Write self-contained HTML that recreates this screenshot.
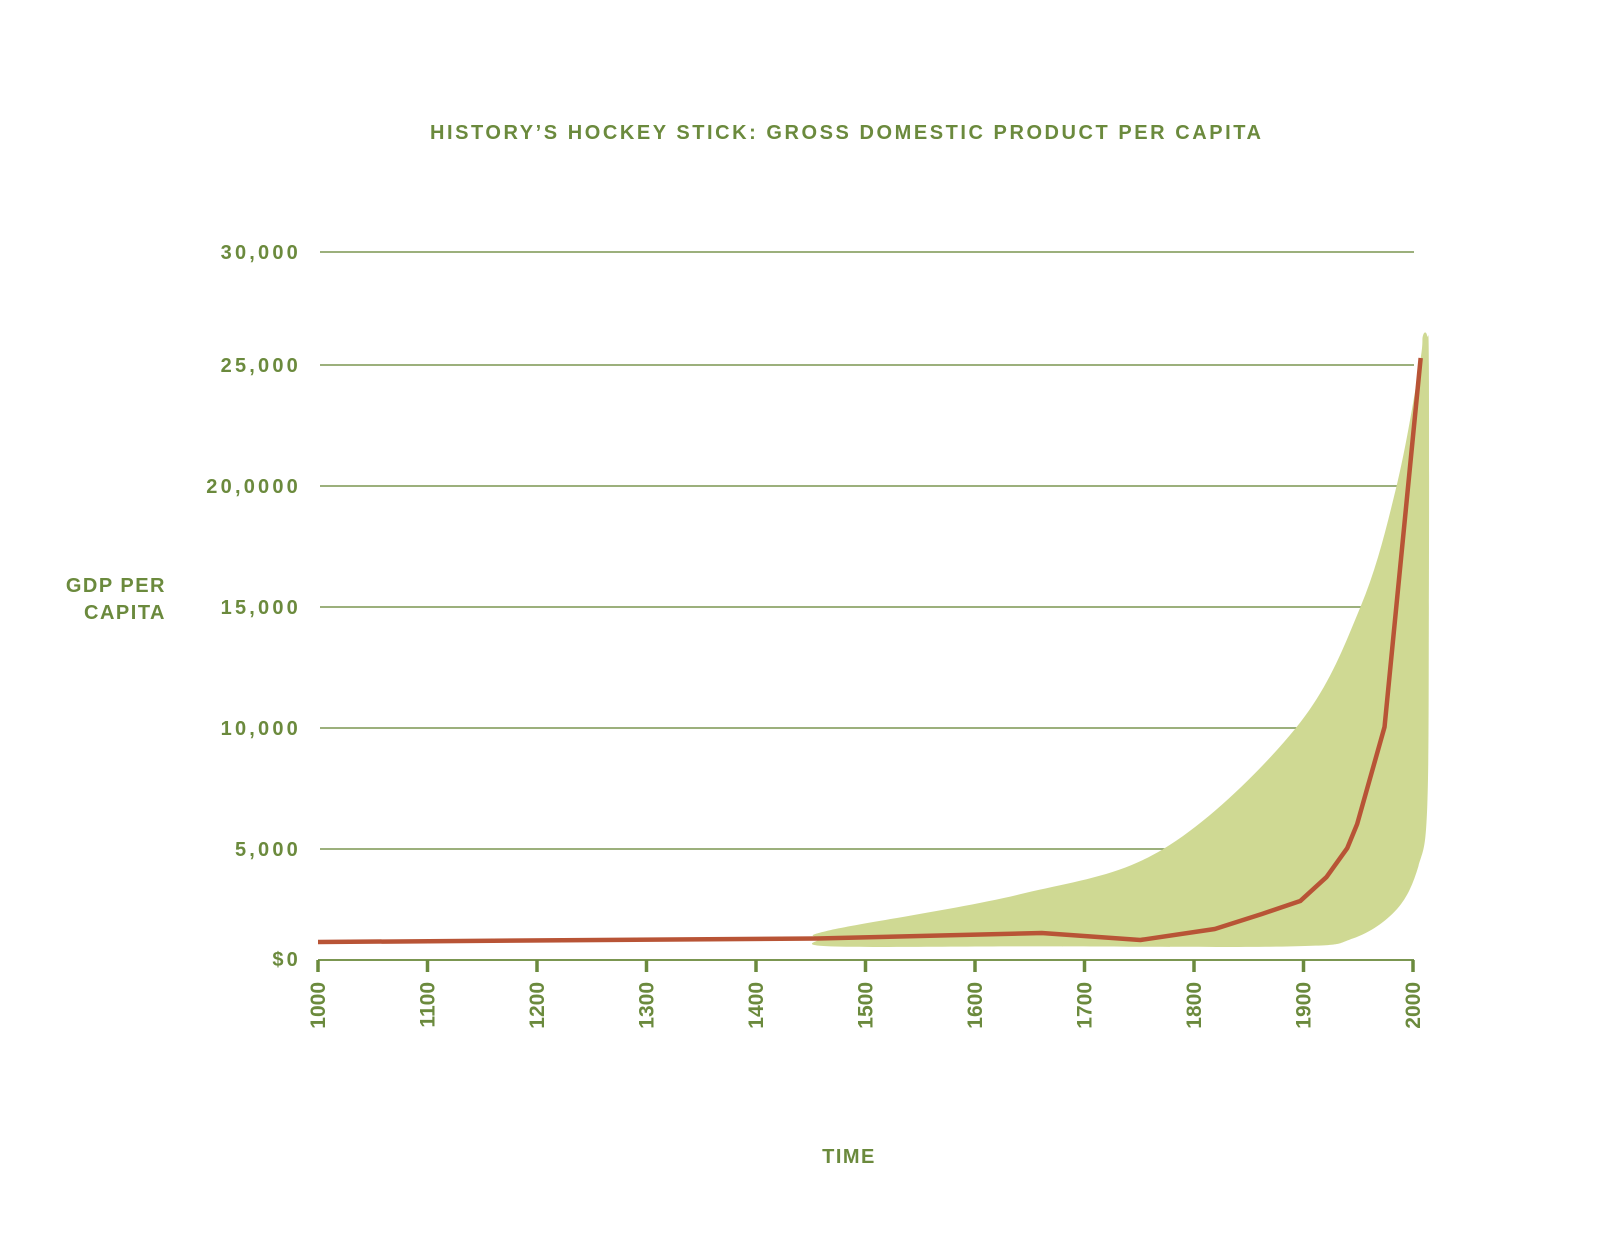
<!DOCTYPE html>
<html><head><meta charset="utf-8"><style>
html,body{margin:0;padding:0;background:#fff;}
svg{display:block;font-family:"Liberation Sans",sans-serif;font-weight:bold;}
</style></head><body>
<svg id="chart" width="1600" height="1247" viewBox="0 0 1600 1247" xmlns="http://www.w3.org/2000/svg">
<text x="430" y="139" font-size="20" fill="#6b8a3d" textLength="831" lengthAdjust="spacing">HISTORY’S HOCKEY STICK: GROSS DOMESTIC PRODUCT PER CAPITA</text>
<text font-size="20" fill="#6b8a3d" text-anchor="end" letter-spacing="1.5"><tspan x="166" y="592">GDP PER</tspan><tspan x="166" y="619">CAPITA</tspan></text>
<text x="849" y="1163" font-size="20" fill="#6b8a3d" text-anchor="middle" letter-spacing="1.5">TIME</text>
<g id="grid"></g><g id="band"></g><g id="series"></g><g id="axis"></g>
</svg>
<script>
const yTicks = [5000, 10000, 15000, 20000, 25000, 30000];
const yTickLabels = ["5,000", "10,000", "15,000", "20,0000", "25,000", "30,000"];
const xTicks = [1000, 1100, 1200, 1300, 1400, 1500, 1600, 1700, 1800, 1900, 2000];
const gdpYears = [1000, 1456, 1661, 1751, 1819, 1862, 1897, 1921, 1940, 1949, 1974, 2007];
const gdpValues = [1157, 1300, 1529, 1240, 1694, 2314, 2850, 3840, 5040, 6030, 10040, 25290];
const bandUpperYears = [1468, 1641, 1772, 1893, 1952, 1985, 2006, 2009, 2013, 2014.5];
const bandUpperValues = [1650, 3130, 5000, 10000, 15000, 20000, 25000, 26200, 26200, 25000];
const bandLowerYears = [2014.5, 2013, 2005, 1985, 1945, 1889, 1650, 1468, 1459];
const bandLowerValues = [15000, 6740, 4300, 2500, 1300, 975, 975, 975, 1300];

const NS = "http://www.w3.org/2000/svg";
const xS = yr => 318 + (yr - 1000) * 1.095;
const yS = v => 970 - v * 0.0242;
const AXIS_Y = 960;
function mk(tag, attrs, parent){const e=document.createElementNS(NS,tag);for(const k in attrs)e.setAttribute(k,attrs[k]);parent.appendChild(e);return e;}
const grid=document.getElementById('grid'), band=document.getElementById('band'), series=document.getElementById('series'), axis=document.getElementById('axis');

yTicks.forEach((v,i)=>{
  const y = i===yTicks.length-1 ? yS(v)+8 : yS(v);
  const l=mk('line',{x1:320,x2:1414,y1:y,y2:y,stroke:'#7b9651','stroke-width':1.6},grid);
  
  
  const t=mk('text',{x:301,y:y+7,'font-size':20,fill:'#6b8a3d','text-anchor':'end','letter-spacing':3.2},grid);
  t.textContent=yTickLabels[i];
  
  
});
const z=mk('text',{x:301,y:AXIS_Y+6,'font-size':20,fill:'#6b8a3d','text-anchor':'end','letter-spacing':3.2},grid);
z.textContent='$0';



function smooth(pts, closed){
  const n=pts.length; let d='M'+pts[0][0]+','+pts[0][1];
  const get=i=>closed?pts[(i+n)%n]:pts[Math.max(0,Math.min(n-1,i))];
  const m=closed?n:n-1;
  for(let i=0;i<m;i++){
    const p0=get(i-1),p1=get(i),p2=get(i+1),p3=get(i+2);
    const c1=[p1[0]+(p2[0]-p0[0])/6,p1[1]+(p2[1]-p0[1])/6];
    const c2=[p2[0]-(p3[0]-p1[0])/6,p2[1]-(p3[1]-p1[1])/6];
    d+='C'+c1.join(',')+' '+c2.join(',')+' '+p2.join(',');
  }
  return d+(closed?'Z':'');
}
const bandPts=[];
bandUpperYears.forEach((yr,i)=>bandPts.push([xS(yr),yS(bandUpperValues[i])]));
bandLowerYears.forEach((yr,i)=>bandPts.push([xS(yr),yS(bandLowerValues[i])]));
const bp=mk('path',{d:smooth(bandPts,true),fill:'#cfd993'},band);



const linePts=gdpYears.map((yr,i)=>[xS(yr),yS(gdpValues[i])]);
let ld='M'+linePts.map(p=>p.join(',')).join('L');
const lp=mk('path',{d:ld,fill:'none',stroke:'#b85436','stroke-width':4.5,'stroke-linejoin':'round'},series);



const ax=mk('line',{x1:318,x2:1414,y1:AXIS_Y,y2:AXIS_Y,stroke:'#7b9651','stroke-width':2},axis);


xTicks.forEach(yr=>{
  const x=xS(yr);
  const tk=mk('line',{x1:x,x2:x,y1:AXIS_Y,y2:AXIS_Y+12,stroke:'#6b8a3d','stroke-width':3.5},axis);
  
  
  const t=mk('text',{x:0,y:0,'font-size':21,fill:'#6b8a3d','text-anchor':'end',transform:'translate('+(x+7)+','+(AXIS_Y+22)+') rotate(-90)'},axis);
  t.textContent=String(yr);
  
  
});
</script>
</body></html>
